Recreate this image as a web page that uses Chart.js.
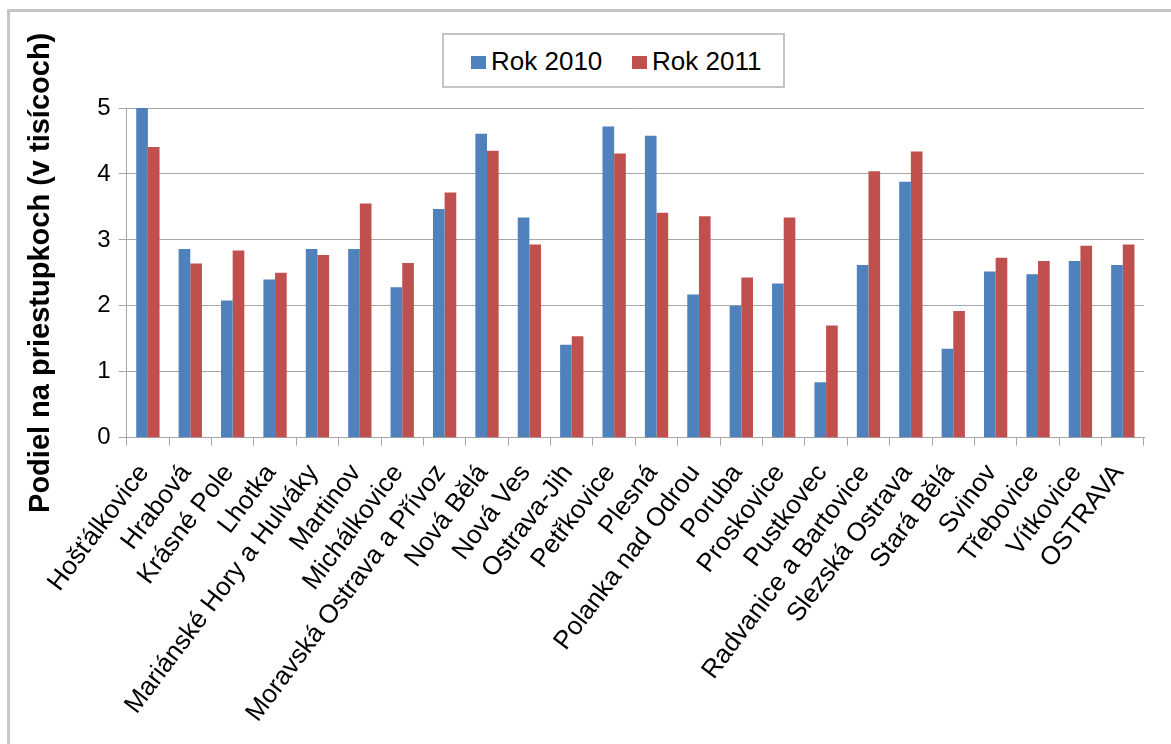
<!DOCTYPE html>
<html>
<head>
<meta charset="utf-8">
<script src="https://cdn.jsdelivr.net/npm/chart.js@4.4.1/dist/chart.umd.min.js"></script>
<style>
  html, body { margin: 0; padding: 0; background: #fff; }
  #wrap { position: relative; width: 1171px; height: 744px; overflow: hidden; }
  #frame { position: absolute; left: 7px; top: 9px; width: 1200px; height: 800px;
           border-left: 3px solid #c6c6c6; border-top: 3px solid #c6c6c6; box-sizing: border-box; pointer-events: none; }
  #legend { position: absolute; left: 442px; top: 33px; width: 343px; height: 55px; box-sizing: border-box;
            border: 2px solid #c4c4c4; background: #fff;
            font-family: 'Liberation Sans', Arial, sans-serif; font-size: 26px; color: #000; }
  .item { position: absolute; top: 11px; line-height: 30px; white-space: nowrap; }
  .sw { display: inline-block; width: 15px; height: 13px; margin-right: 5px; vertical-align: 1px; }
  canvas { position: absolute; left: 0; top: 0; }
</style>
</head>
<body>
<div id="wrap">
  <canvas id="c" width="1171" height="744"></canvas>
  <div id="frame"></div>
  <div id="legend"></div>
</div>
<script>
const categories = ["Hošťálkovice","Hrabová","Krásné Pole","Lhotka","Mariánské Hory a Hulváky","Martinov","Michálkovice","Moravská Ostrava a Přívoz","Nová Bělá","Nová Ves","Ostrava-Jih","Petřkovice","Plesná","Polanka nad Odrou","Poruba","Proskovice","Pustkovec","Radvanice a Bartovice","Slezská Ostrava","Stará Bělá","Svinov","Třebovice","Vítkovice","OSTRAVA"];
const seriesNames = ["Rok 2010", "Rok 2011"];
const values2010 = [5.00, 2.86, 2.08, 2.40, 2.86, 2.86, 2.28, 3.47, 4.61, 3.34, 1.41, 4.72, 4.58, 2.17, 2.00, 2.34, 0.84, 2.62, 3.88, 1.35, 2.52, 2.48, 2.68, 2.62];
const values2011 = [4.41, 2.64, 2.84, 2.50, 2.77, 3.55, 2.65, 3.72, 4.35, 2.93, 1.54, 4.31, 3.41, 3.36, 2.43, 3.34, 1.70, 4.04, 4.34, 1.92, 2.73, 2.68, 2.91, 2.93];
const yTicks = [0, 1, 2, 3, 4, 5];
const yTitle = "Podiel na priestupkoch (v tisícoch)";
const colors = ["#4F81BD", "#C0504D"];

// HTML legend
const leg = document.getElementById('legend');
const legPos = [27, 188];
seriesNames.forEach((n, i) => {
  const d = document.createElement('div');
  d.className = 'item';
  d.style.left = legPos[i] + 'px';
  d.innerHTML = '<span class="sw" style="background:' + colors[i] + '"></span>' + n;
  leg.appendChild(d);
});

Chart.defaults.font.family = "'Liberation Sans', Arial, sans-serif";
Chart.defaults.color = '#000';

const gridColor = '#a6a6a6';
new Chart(document.getElementById('c'), {
  type: 'bar',
  data: {
    labels: categories,
    datasets: [
      { label: seriesNames[0], data: values2010, backgroundColor: colors[0], borderWidth: 0 },
      { label: seriesNames[1], data: values2011, backgroundColor: colors[1], borderWidth: 0 }
    ]
  },
  options: {
    responsive: false,
    animation: false,
    layout: { padding: { left: 0, top: 108, right: 27, bottom: 0 } },
    datasets: { bar: { categoryPercentage: 0.55, barPercentage: 1.0 } },
    plugins: { legend: { display: false }, tooltip: { enabled: false } },
    scales: {
      x: {
        offset: true,
        grid: { offset: true, drawOnChartArea: false, drawTicks: true, tickLength: 8, color: gridColor, lineWidth: 1 },
        border: { color: gridColor, width: 1 },
        ticks: { autoSkip: false, minRotation: 53, maxRotation: 53, font: { size: 26 }, padding: 13, labelOffset: -4, color: '#000' },
        afterFit: s => { s.height = 744 - 437.7; }
      },
      y: {
        min: 0, max: 5,
        afterBuildTicks: s => { s.ticks = yTicks.map(v => ({ value: v })); },
        grid: { color: gridColor, lineWidth: 1, tickLength: 8, drawTicks: true },
        border: { color: gridColor, width: 1 },
        ticks: { font: { size: 24 }, padding: 8, color: '#000' },
        title: { display: true, text: yTitle, font: { size: 29, weight: 'bold' }, padding: { top: 24, bottom: 0 }, color: '#000' },
        afterFit: s => { s.width = 126.7; }
      }
    }
  }
});
</script>
</body>
</html>
